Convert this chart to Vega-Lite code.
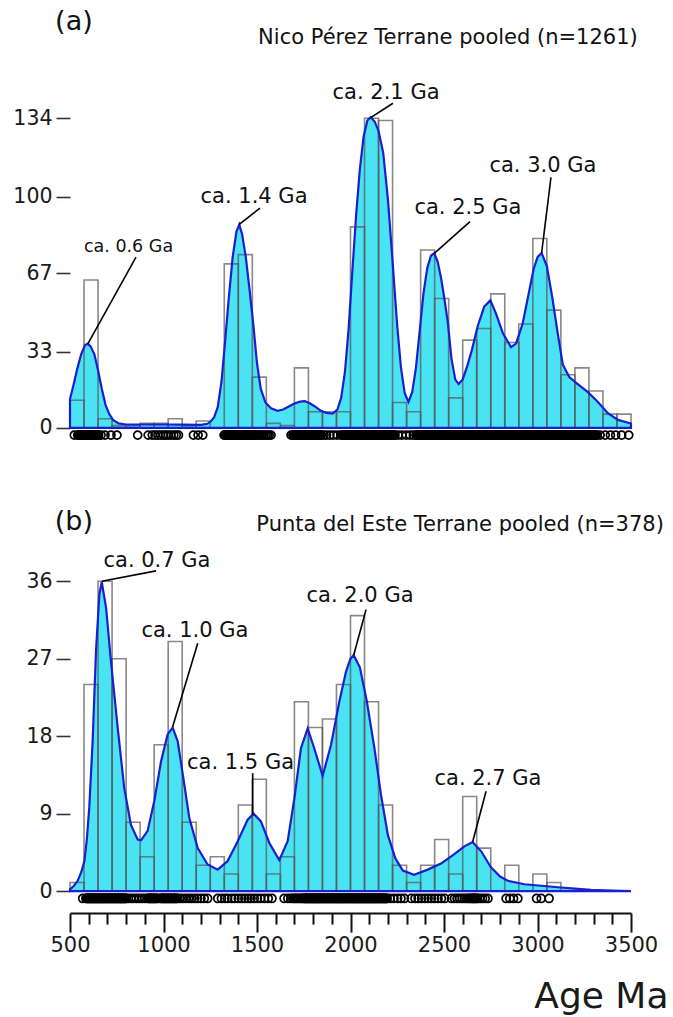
{
  "$schema": "https://vega.github.io/schema/vega-lite/v6.json",
  "background": "white",
  "padding": {"left": 12, "top": 5, "right": 6, "bottom": 0},
  "bounds": "flush",
  "spacing": 33,
  "config": {
    "view": {"stroke": null},
    "font": "DejaVu Sans",
    "axis": {"labelFont": "DejaVu Sans", "titleFont": "DejaVu Sans", "grid": false},
    "text": {"font": "DejaVu Sans"}
  },
  "datasets": {
    "histA": [
      {"start": 500, "end": 575, "count": 12}, {"start": 575, "end": 650, "count": 64},
      {"start": 650, "end": 725, "count": 4}, {"start": 725, "end": 800, "count": 1},
      {"start": 800, "end": 875, "count": 1}, {"start": 875, "end": 950, "count": 2},
      {"start": 950, "end": 1025, "count": 2}, {"start": 1025, "end": 1100, "count": 4},
      {"start": 1100, "end": 1175, "count": 1}, {"start": 1175, "end": 1250, "count": 3},
      {"start": 1325, "end": 1400, "count": 71}, {"start": 1400, "end": 1475, "count": 75},
      {"start": 1475, "end": 1550, "count": 22}, {"start": 1550, "end": 1625, "count": 2},
      {"start": 1625, "end": 1700, "count": 1}, {"start": 1700, "end": 1775, "count": 26},
      {"start": 1775, "end": 1850, "count": 7}, {"start": 1850, "end": 1925, "count": 7},
      {"start": 1925, "end": 2000, "count": 7}, {"start": 2000, "end": 2075, "count": 87},
      {"start": 2075, "end": 2150, "count": 134}, {"start": 2150, "end": 2225, "count": 133},
      {"start": 2225, "end": 2300, "count": 11}, {"start": 2300, "end": 2375, "count": 7},
      {"start": 2375, "end": 2450, "count": 77}, {"start": 2450, "end": 2525, "count": 56},
      {"start": 2525, "end": 2600, "count": 13}, {"start": 2600, "end": 2675, "count": 38},
      {"start": 2675, "end": 2750, "count": 43}, {"start": 2750, "end": 2825, "count": 58},
      {"start": 2825, "end": 2900, "count": 37}, {"start": 2900, "end": 2975, "count": 45},
      {"start": 2975, "end": 3050, "count": 82}, {"start": 3050, "end": 3125, "count": 51},
      {"start": 3125, "end": 3200, "count": 23}, {"start": 3200, "end": 3275, "count": 26},
      {"start": 3275, "end": 3350, "count": 16}, {"start": 3350, "end": 3425, "count": 6},
      {"start": 3425, "end": 3500, "count": 6}
    ],
    "histB": [
      {"start": 500, "end": 575, "count": 1}, {"start": 575, "end": 650, "count": 24},
      {"start": 650, "end": 725, "count": 36}, {"start": 725, "end": 800, "count": 27},
      {"start": 800, "end": 875, "count": 8}, {"start": 875, "end": 950, "count": 4},
      {"start": 950, "end": 1025, "count": 17}, {"start": 1025, "end": 1100, "count": 29},
      {"start": 1100, "end": 1175, "count": 8}, {"start": 1175, "end": 1250, "count": 3},
      {"start": 1250, "end": 1325, "count": 4}, {"start": 1325, "end": 1400, "count": 2},
      {"start": 1400, "end": 1475, "count": 10}, {"start": 1475, "end": 1550, "count": 13},
      {"start": 1550, "end": 1625, "count": 2}, {"start": 1625, "end": 1700, "count": 4},
      {"start": 1700, "end": 1775, "count": 22}, {"start": 1775, "end": 1850, "count": 19},
      {"start": 1850, "end": 1925, "count": 20}, {"start": 1925, "end": 2000, "count": 24},
      {"start": 2000, "end": 2075, "count": 32}, {"start": 2075, "end": 2150, "count": 22},
      {"start": 2150, "end": 2225, "count": 10}, {"start": 2225, "end": 2300, "count": 3},
      {"start": 2300, "end": 2375, "count": 1}, {"start": 2375, "end": 2450, "count": 3},
      {"start": 2450, "end": 2525, "count": 6}, {"start": 2525, "end": 2600, "count": 2},
      {"start": 2600, "end": 2675, "count": 11}, {"start": 2675, "end": 2750, "count": 5},
      {"start": 2825, "end": 2900, "count": 3}, {"start": 2975, "end": 3050, "count": 2},
      {"start": 3050, "end": 3125, "count": 1}
    ],
    "kdeA": [
      {"age": 500, "density": 12.5}, {"age": 520, "density": 19}, {"age": 540, "density": 26},
      {"age": 560, "density": 32}, {"age": 580, "density": 35.8}, {"age": 595, "density": 36.5},
      {"age": 610, "density": 35.3}, {"age": 630, "density": 32}, {"age": 650, "density": 25},
      {"age": 670, "density": 17}, {"age": 690, "density": 10}, {"age": 710, "density": 6},
      {"age": 730, "density": 3.5}, {"age": 760, "density": 2}, {"age": 800, "density": 1.5},
      {"age": 900, "density": 1.5}, {"age": 1000, "density": 1.5}, {"age": 1100, "density": 1.4},
      {"age": 1200, "density": 1.3}, {"age": 1235, "density": 1.8}, {"age": 1255, "density": 3},
      {"age": 1270, "density": 4.5}, {"age": 1290, "density": 9}, {"age": 1310, "density": 20},
      {"age": 1330, "density": 38}, {"age": 1350, "density": 57}, {"age": 1370, "density": 74},
      {"age": 1390, "density": 85}, {"age": 1405, "density": 88}, {"age": 1420, "density": 84},
      {"age": 1440, "density": 74}, {"age": 1460, "density": 60}, {"age": 1480, "density": 45},
      {"age": 1500, "density": 28}, {"age": 1520, "density": 17}, {"age": 1545, "density": 11},
      {"age": 1575, "density": 8.5}, {"age": 1610, "density": 7.4}, {"age": 1640, "density": 8},
      {"age": 1670, "density": 9.3}, {"age": 1700, "density": 10.6}, {"age": 1730, "density": 11.4},
      {"age": 1755, "density": 11.6}, {"age": 1780, "density": 10.8}, {"age": 1810, "density": 9.3},
      {"age": 1840, "density": 7.5}, {"age": 1870, "density": 6.5}, {"age": 1905, "density": 6.2},
      {"age": 1930, "density": 8}, {"age": 1950, "density": 13}, {"age": 1970, "density": 24},
      {"age": 1990, "density": 43}, {"age": 2010, "density": 68}, {"age": 2030, "density": 92},
      {"age": 2050, "density": 112}, {"age": 2070, "density": 126}, {"age": 2090, "density": 133},
      {"age": 2108, "density": 134.5}, {"age": 2130, "density": 132.5}, {"age": 2150, "density": 128.5},
      {"age": 2175, "density": 119}, {"age": 2200, "density": 99}, {"age": 2225, "density": 72},
      {"age": 2250, "density": 44}, {"age": 2270, "density": 26}, {"age": 2290, "density": 15},
      {"age": 2310, "density": 11.3}, {"age": 2330, "density": 15.5}, {"age": 2350, "density": 26},
      {"age": 2370, "density": 42}, {"age": 2390, "density": 58}, {"age": 2410, "density": 69},
      {"age": 2430, "density": 74.5}, {"age": 2448, "density": 75.6}, {"age": 2466, "density": 72},
      {"age": 2484, "density": 65}, {"age": 2500, "density": 57}, {"age": 2520, "density": 46},
      {"age": 2540, "density": 30}, {"age": 2560, "density": 21}, {"age": 2578, "density": 19},
      {"age": 2600, "density": 21}, {"age": 2625, "density": 27}, {"age": 2650, "density": 34},
      {"age": 2680, "density": 44}, {"age": 2715, "density": 52.5}, {"age": 2748, "density": 55.3},
      {"age": 2778, "density": 49.5}, {"age": 2815, "density": 41}, {"age": 2858, "density": 35},
      {"age": 2885, "density": 36.5}, {"age": 2920, "density": 45}, {"age": 2950, "density": 57},
      {"age": 2980, "density": 69}, {"age": 3001, "density": 74}, {"age": 3022, "density": 75.7},
      {"age": 3050, "density": 70}, {"age": 3080, "density": 56}, {"age": 3108, "density": 41},
      {"age": 3135, "density": 27.5}, {"age": 3170, "density": 22}, {"age": 3215, "density": 19},
      {"age": 3268, "density": 15.6}, {"age": 3322, "density": 11.3}, {"age": 3375, "density": 6.5},
      {"age": 3430, "density": 3.5}, {"age": 3500, "density": 1.9}
    ],
    "kdeB": [
      {"age": 500, "density": 0.2}, {"age": 520, "density": 0.6}, {"age": 541, "density": 1.2},
      {"age": 560, "density": 2.2}, {"age": 577, "density": 3.5}, {"age": 590, "density": 6},
      {"age": 603, "density": 9.7}, {"age": 621, "density": 17.4}, {"age": 639, "density": 27.9},
      {"age": 657, "density": 34.5}, {"age": 670, "density": 35.9}, {"age": 693, "density": 32.9},
      {"age": 719, "density": 26.7}, {"age": 755, "density": 19}, {"age": 790, "density": 12},
      {"age": 826, "density": 7.7}, {"age": 862, "density": 6}, {"age": 880, "density": 5.9},
      {"age": 915, "density": 7}, {"age": 951, "density": 10.5}, {"age": 987, "density": 15.1},
      {"age": 1022, "density": 18.2}, {"age": 1049, "density": 19}, {"age": 1076, "density": 17.4},
      {"age": 1103, "density": 13.6}, {"age": 1138, "density": 8.5}, {"age": 1183, "density": 5},
      {"age": 1236, "density": 3.1}, {"age": 1290, "density": 2.5}, {"age": 1343, "density": 3.5},
      {"age": 1397, "density": 5.8}, {"age": 1450, "density": 8.3}, {"age": 1482, "density": 9},
      {"age": 1521, "density": 8.1}, {"age": 1566, "density": 5.6}, {"age": 1619, "density": 3.6},
      {"age": 1664, "density": 5.8}, {"age": 1700, "density": 10.8}, {"age": 1735, "density": 16.6},
      {"age": 1771, "density": 18.9}, {"age": 1806, "density": 16.6}, {"age": 1851, "density": 13.4},
      {"age": 1896, "density": 17}, {"age": 1940, "density": 22}, {"age": 1976, "density": 25.5},
      {"age": 2000, "density": 27}, {"age": 2017, "density": 27.4}, {"age": 2050, "density": 26},
      {"age": 2087, "density": 22.1}, {"age": 2128, "density": 16.6}, {"age": 2163, "density": 11.2},
      {"age": 2200, "density": 6.5}, {"age": 2240, "density": 3.8}, {"age": 2280, "density": 2.4},
      {"age": 2340, "density": 1.9}, {"age": 2413, "density": 2.5}, {"age": 2484, "density": 3.2},
      {"age": 2555, "density": 4.3}, {"age": 2609, "density": 5.2}, {"age": 2653, "density": 5.7},
      {"age": 2700, "density": 4.6}, {"age": 2750, "density": 2.8}, {"age": 2800, "density": 1.7},
      {"age": 2841, "density": 1.2}, {"age": 2930, "density": 0.8}, {"age": 3036, "density": 0.6},
      {"age": 3108, "density": 0.45}, {"age": 3200, "density": 0.3}, {"age": 3286, "density": 0.15},
      {"age": 3400, "density": 0.05}, {"age": 3500, "density": 0}
    ],
    "rugA": [
      {"age": 523}, {"age": 541}, {"age": 545}, {"age": 549}, {"age": 553}, {"age": 557}, {"age": 561},
      {"age": 565}, {"age": 569}, {"age": 573}, {"age": 577}, {"age": 581}, {"age": 585}, {"age": 589},
      {"age": 593}, {"age": 597}, {"age": 601}, {"age": 605}, {"age": 609}, {"age": 613}, {"age": 617},
      {"age": 621}, {"age": 625}, {"age": 629}, {"age": 633}, {"age": 637}, {"age": 641}, {"age": 645},
      {"age": 649}, {"age": 653}, {"age": 666}, {"age": 687}, {"age": 719}, {"age": 751},
      {"age": 862}, {"age": 918}, {"age": 940}, {"age": 955}, {"age": 970}, {"age": 985}, {"age": 1000},
      {"age": 1012}, {"age": 1025}, {"age": 1040}, {"age": 1055}, {"age": 1068}, {"age": 1080},
      {"age": 1160}, {"age": 1185}, {"age": 1210},
      {"age": 1324}, {"age": 1328}, {"age": 1332}, {"age": 1336}, {"age": 1340}, {"age": 1344},
      {"age": 1348}, {"age": 1352}, {"age": 1356}, {"age": 1360}, {"age": 1364}, {"age": 1368},
      {"age": 1372}, {"age": 1376}, {"age": 1380}, {"age": 1384}, {"age": 1388}, {"age": 1392},
      {"age": 1396}, {"age": 1400}, {"age": 1404}, {"age": 1408}, {"age": 1412}, {"age": 1416},
      {"age": 1420}, {"age": 1424}, {"age": 1428}, {"age": 1432}, {"age": 1436}, {"age": 1440},
      {"age": 1444}, {"age": 1448}, {"age": 1452}, {"age": 1456}, {"age": 1460}, {"age": 1464},
      {"age": 1468}, {"age": 1472}, {"age": 1476}, {"age": 1480}, {"age": 1484}, {"age": 1490},
      {"age": 1496}, {"age": 1504}, {"age": 1512}, {"age": 1520}, {"age": 1528}, {"age": 1538},
      {"age": 1548}, {"age": 1556}, {"age": 1565}, {"age": 1575}, {"age": 1682},
      {"age": 1692}, {"age": 1696}, {"age": 1700}, {"age": 1704}, {"age": 1708}, {"age": 1712},
      {"age": 1716}, {"age": 1720}, {"age": 1724}, {"age": 1728}, {"age": 1732}, {"age": 1736},
      {"age": 1740}, {"age": 1744}, {"age": 1748}, {"age": 1752}, {"age": 1756}, {"age": 1760},
      {"age": 1764}, {"age": 1768}, {"age": 1772}, {"age": 1776}, {"age": 1780}, {"age": 1784},
      {"age": 1788}, {"age": 1792}, {"age": 1796}, {"age": 1800}, {"age": 1804}, {"age": 1808},
      {"age": 1812}, {"age": 1816}, {"age": 1820}, {"age": 1824}, {"age": 1828}, {"age": 1832},
      {"age": 1836}, {"age": 1840}, {"age": 1844}, {"age": 1858}, {"age": 1872}, {"age": 1890},
      {"age": 1908}, {"age": 1928}, {"age": 1948},
      {"age": 1958}, {"age": 1962}, {"age": 1966}, {"age": 1970}, {"age": 1974}, {"age": 1978},
      {"age": 1982}, {"age": 1986}, {"age": 1990}, {"age": 1994}, {"age": 1998}, {"age": 2002},
      {"age": 2006}, {"age": 2010}, {"age": 2014}, {"age": 2018}, {"age": 2022}, {"age": 2026},
      {"age": 2030}, {"age": 2034}, {"age": 2038}, {"age": 2042}, {"age": 2046}, {"age": 2050},
      {"age": 2054}, {"age": 2058}, {"age": 2062}, {"age": 2066}, {"age": 2070}, {"age": 2074},
      {"age": 2078}, {"age": 2082}, {"age": 2086}, {"age": 2090}, {"age": 2094}, {"age": 2098},
      {"age": 2102}, {"age": 2106}, {"age": 2110}, {"age": 2114}, {"age": 2118}, {"age": 2122},
      {"age": 2126}, {"age": 2130}, {"age": 2134}, {"age": 2138}, {"age": 2142}, {"age": 2146},
      {"age": 2150}, {"age": 2154}, {"age": 2158}, {"age": 2162}, {"age": 2166}, {"age": 2170},
      {"age": 2174}, {"age": 2178}, {"age": 2182}, {"age": 2186}, {"age": 2190}, {"age": 2194},
      {"age": 2198}, {"age": 2202}, {"age": 2206}, {"age": 2210}, {"age": 2214}, {"age": 2218},
      {"age": 2222}, {"age": 2226}, {"age": 2230}, {"age": 2234}, {"age": 2238},
      {"age": 2255}, {"age": 2275}, {"age": 2298}, {"age": 2318}, {"age": 2336},
      {"age": 2350}, {"age": 2354}, {"age": 2358}, {"age": 2362}, {"age": 2366}, {"age": 2370},
      {"age": 2374}, {"age": 2378}, {"age": 2382}, {"age": 2386}, {"age": 2390}, {"age": 2394},
      {"age": 2398}, {"age": 2402}, {"age": 2406}, {"age": 2410}, {"age": 2414}, {"age": 2418},
      {"age": 2422}, {"age": 2426}, {"age": 2430}, {"age": 2434}, {"age": 2438}, {"age": 2442},
      {"age": 2446}, {"age": 2450}, {"age": 2454}, {"age": 2458}, {"age": 2462}, {"age": 2466},
      {"age": 2470}, {"age": 2474}, {"age": 2478}, {"age": 2482}, {"age": 2486}, {"age": 2490},
      {"age": 2494}, {"age": 2498}, {"age": 2502}, {"age": 2506}, {"age": 2510}, {"age": 2514},
      {"age": 2518}, {"age": 2526}, {"age": 2534}, {"age": 2542}, {"age": 2550}, {"age": 2558},
      {"age": 2566}, {"age": 2574}, {"age": 2582}, {"age": 2590}, {"age": 2598}, {"age": 2604},
      {"age": 2610}, {"age": 2614}, {"age": 2618}, {"age": 2622}, {"age": 2626}, {"age": 2630},
      {"age": 2634}, {"age": 2638}, {"age": 2642}, {"age": 2646}, {"age": 2650}, {"age": 2654},
      {"age": 2658}, {"age": 2662}, {"age": 2666}, {"age": 2670}, {"age": 2674}, {"age": 2678},
      {"age": 2682}, {"age": 2686}, {"age": 2690}, {"age": 2694}, {"age": 2698}, {"age": 2702},
      {"age": 2706}, {"age": 2710}, {"age": 2714}, {"age": 2718}, {"age": 2722}, {"age": 2726},
      {"age": 2730}, {"age": 2734}, {"age": 2738}, {"age": 2742}, {"age": 2746}, {"age": 2750},
      {"age": 2754}, {"age": 2758}, {"age": 2762}, {"age": 2766}, {"age": 2770}, {"age": 2774},
      {"age": 2778}, {"age": 2782}, {"age": 2786}, {"age": 2790}, {"age": 2794}, {"age": 2798},
      {"age": 2802}, {"age": 2806}, {"age": 2810}, {"age": 2814}, {"age": 2818}, {"age": 2822},
      {"age": 2826}, {"age": 2830}, {"age": 2834}, {"age": 2838}, {"age": 2842}, {"age": 2846},
      {"age": 2850}, {"age": 2854}, {"age": 2858}, {"age": 2862}, {"age": 2866}, {"age": 2870},
      {"age": 2874}, {"age": 2878}, {"age": 2882}, {"age": 2886}, {"age": 2890}, {"age": 2894},
      {"age": 2898}, {"age": 2902}, {"age": 2906}, {"age": 2910}, {"age": 2914}, {"age": 2918},
      {"age": 2922}, {"age": 2926}, {"age": 2930}, {"age": 2934}, {"age": 2938}, {"age": 2942},
      {"age": 2946}, {"age": 2950}, {"age": 2954}, {"age": 2958}, {"age": 2962}, {"age": 2966},
      {"age": 2970}, {"age": 2974}, {"age": 2978}, {"age": 2982}, {"age": 2986}, {"age": 2990},
      {"age": 2994}, {"age": 2998}, {"age": 3002}, {"age": 3006}, {"age": 3010}, {"age": 3014},
      {"age": 3018}, {"age": 3022}, {"age": 3026}, {"age": 3030}, {"age": 3034}, {"age": 3038},
      {"age": 3042}, {"age": 3046}, {"age": 3050}, {"age": 3054}, {"age": 3058}, {"age": 3062},
      {"age": 3066}, {"age": 3070}, {"age": 3074}, {"age": 3078}, {"age": 3082}, {"age": 3086},
      {"age": 3090}, {"age": 3094}, {"age": 3098}, {"age": 3102}, {"age": 3106}, {"age": 3110},
      {"age": 3114}, {"age": 3118}, {"age": 3122}, {"age": 3126}, {"age": 3130}, {"age": 3134},
      {"age": 3138}, {"age": 3142}, {"age": 3146}, {"age": 3150}, {"age": 3154}, {"age": 3158},
      {"age": 3162}, {"age": 3166}, {"age": 3170}, {"age": 3174}, {"age": 3178}, {"age": 3182},
      {"age": 3186}, {"age": 3190}, {"age": 3194}, {"age": 3198}, {"age": 3202}, {"age": 3206},
      {"age": 3210}, {"age": 3214}, {"age": 3218}, {"age": 3222}, {"age": 3226}, {"age": 3230},
      {"age": 3234}, {"age": 3238}, {"age": 3242}, {"age": 3246}, {"age": 3250}, {"age": 3254},
      {"age": 3258}, {"age": 3262}, {"age": 3266}, {"age": 3270}, {"age": 3274}, {"age": 3278},
      {"age": 3282}, {"age": 3286}, {"age": 3290}, {"age": 3294}, {"age": 3298}, {"age": 3302},
      {"age": 3306}, {"age": 3310}, {"age": 3314}, {"age": 3318},
      {"age": 3335}, {"age": 3362}, {"age": 3390}, {"age": 3418}, {"age": 3450}, {"age": 3488}
    ],
    "rugB": [
      {"age": 568}, {"age": 585}, {"age": 589}, {"age": 593}, {"age": 597}, {"age": 601}, {"age": 605},
      {"age": 609}, {"age": 613}, {"age": 617}, {"age": 621}, {"age": 625}, {"age": 629}, {"age": 633},
      {"age": 637}, {"age": 641}, {"age": 645}, {"age": 649}, {"age": 653}, {"age": 657}, {"age": 661},
      {"age": 665}, {"age": 669}, {"age": 673}, {"age": 677}, {"age": 681}, {"age": 685}, {"age": 689},
      {"age": 693}, {"age": 697}, {"age": 701}, {"age": 705}, {"age": 709}, {"age": 713}, {"age": 717},
      {"age": 721}, {"age": 725}, {"age": 729}, {"age": 733}, {"age": 737}, {"age": 741}, {"age": 745},
      {"age": 749}, {"age": 753}, {"age": 757}, {"age": 761}, {"age": 765}, {"age": 769}, {"age": 773},
      {"age": 777}, {"age": 781}, {"age": 785}, {"age": 789}, {"age": 793}, {"age": 797}, {"age": 801},
      {"age": 812}, {"age": 826}, {"age": 840}, {"age": 855}, {"age": 870}, {"age": 885},
      {"age": 900}, {"age": 915}, {"age": 920}, {"age": 925}, {"age": 930}, {"age": 935}, {"age": 940},
      {"age": 945}, {"age": 950}, {"age": 955}, {"age": 960}, {"age": 965}, {"age": 975}, {"age": 985},
      {"age": 990}, {"age": 995}, {"age": 1000}, {"age": 1005}, {"age": 1010}, {"age": 1015},
      {"age": 1020}, {"age": 1025}, {"age": 1030}, {"age": 1035}, {"age": 1040}, {"age": 1045},
      {"age": 1050}, {"age": 1055}, {"age": 1060}, {"age": 1065}, {"age": 1070}, {"age": 1075},
      {"age": 1088}, {"age": 1102}, {"age": 1118}, {"age": 1135}, {"age": 1150}, {"age": 1166},
      {"age": 1182}, {"age": 1200}, {"age": 1218}, {"age": 1236},
      {"age": 1290}, {"age": 1310}, {"age": 1328}, {"age": 1343},
      {"age": 1365}, {"age": 1382}, {"age": 1400}, {"age": 1418}, {"age": 1435}, {"age": 1452},
      {"age": 1468}, {"age": 1485}, {"age": 1502}, {"age": 1520}, {"age": 1540}, {"age": 1560},
      {"age": 1580}, {"age": 1645}, {"age": 1665}, {"age": 1680},
      {"age": 1692}, {"age": 1700}, {"age": 1708}, {"age": 1716}, {"age": 1724}, {"age": 1732},
      {"age": 1740}, {"age": 1746}, {"age": 1752}, {"age": 1756}, {"age": 1760}, {"age": 1764},
      {"age": 1768}, {"age": 1772}, {"age": 1776}, {"age": 1780}, {"age": 1784}, {"age": 1788},
      {"age": 1792}, {"age": 1796}, {"age": 1800}, {"age": 1804}, {"age": 1808}, {"age": 1812},
      {"age": 1816}, {"age": 1820}, {"age": 1824}, {"age": 1828}, {"age": 1832}, {"age": 1836},
      {"age": 1840}, {"age": 1844}, {"age": 1848}, {"age": 1852}, {"age": 1856}, {"age": 1860},
      {"age": 1864}, {"age": 1868}, {"age": 1872}, {"age": 1876}, {"age": 1880}, {"age": 1884},
      {"age": 1888}, {"age": 1892}, {"age": 1896}, {"age": 1900}, {"age": 1904}, {"age": 1908},
      {"age": 1912}, {"age": 1916}, {"age": 1920}, {"age": 1924}, {"age": 1928}, {"age": 1932},
      {"age": 1936}, {"age": 1940}, {"age": 1944}, {"age": 1948}, {"age": 1952}, {"age": 1956},
      {"age": 1960}, {"age": 1964}, {"age": 1968}, {"age": 1972}, {"age": 1976}, {"age": 1980},
      {"age": 1984}, {"age": 1988}, {"age": 1992}, {"age": 1996}, {"age": 2000}, {"age": 2004},
      {"age": 2008}, {"age": 2012}, {"age": 2016}, {"age": 2020}, {"age": 2024}, {"age": 2028},
      {"age": 2032}, {"age": 2036}, {"age": 2040}, {"age": 2044}, {"age": 2048}, {"age": 2052},
      {"age": 2056}, {"age": 2060}, {"age": 2064}, {"age": 2068}, {"age": 2072}, {"age": 2076},
      {"age": 2080}, {"age": 2084}, {"age": 2088}, {"age": 2092}, {"age": 2096}, {"age": 2100},
      {"age": 2104}, {"age": 2108}, {"age": 2112}, {"age": 2116}, {"age": 2120}, {"age": 2124},
      {"age": 2128}, {"age": 2132}, {"age": 2136}, {"age": 2140}, {"age": 2144}, {"age": 2148},
      {"age": 2152}, {"age": 2156}, {"age": 2160}, {"age": 2164}, {"age": 2168}, {"age": 2172},
      {"age": 2176}, {"age": 2180}, {"age": 2184}, {"age": 2188}, {"age": 2192}, {"age": 2196},
      {"age": 2212}, {"age": 2232}, {"age": 2252}, {"age": 2270}, {"age": 2288},
      {"age": 2325}, {"age": 2345}, {"age": 2362}, {"age": 2380}, {"age": 2398}, {"age": 2415},
      {"age": 2432}, {"age": 2450}, {"age": 2468}, {"age": 2486}, {"age": 2504},
      {"age": 2540}, {"age": 2556}, {"age": 2570}, {"age": 2584}, {"age": 2598}, {"age": 2610},
      {"age": 2622}, {"age": 2630}, {"age": 2638}, {"age": 2646}, {"age": 2652}, {"age": 2657},
      {"age": 2662}, {"age": 2668}, {"age": 2674}, {"age": 2680}, {"age": 2692}, {"age": 2706},
      {"age": 2720}, {"age": 2735},
      {"age": 2832}, {"age": 2852}, {"age": 2872}, {"age": 2895},
      {"age": 2995}, {"age": 3020}, {"age": 3062}
    ],
    "peaksA": [
      {"label": "ca. 1.4 Ga", "tx": 1484, "ty": 99.8, "x1": 1516, "y1": 95.1, "x2": 1405, "y2": 88.1},
      {"label": "ca. 2.1 Ga", "tx": 2190, "ty": 144.8, "x1": 2227, "y1": 140.5, "x2": 2108, "y2": 134.3},
      {"label": "ca. 2.5 Ga", "tx": 2628, "ty": 95.1, "x1": 2639, "y1": 89.3, "x2": 2448, "y2": 75.5},
      {"label": "ca. 3.0 Ga", "tx": 3029, "ty": 113.2, "x1": 3072, "y1": 108.4, "x2": 3022, "y2": 75.7}
    ],
    "peakA06": [
      {"label": "ca. 0.6 Ga", "tx": 813, "ty": 78.3, "x1": 853, "y1": 73.9, "x2": 596, "y2": 36.5}
    ],
    "peaksB": [
      {"label": "ca. 0.7 Ga", "tx": 965, "ty": 38.3, "x1": 960, "y1": 37.2, "x2": 670, "y2": 36},
      {"label": "ca. 1.0 Ga", "tx": 1168, "ty": 30.2, "x1": 1183, "y1": 28.8, "x2": 1049, "y2": 19.1},
      {"label": "ca. 1.5 Ga", "tx": 1412, "ty": 14.9, "x1": 1477, "y1": 13.7, "x2": 1477, "y2": 8.9},
      {"label": "ca. 2.0 Ga", "tx": 2051, "ty": 34.3, "x1": 2083, "y1": 32.7, "x2": 2017, "y2": 27.4},
      {"label": "ca. 2.7 Ga", "tx": 2735, "ty": 13, "x1": 2725, "y1": 11.6, "x2": 2653, "y2": 5.7}
    ],
    "headA": [
      {"label": "(a)", "kind": "panel", "tx": 521, "ty": 175.6},
      {"label": "Nico Pérez Terrane pooled (n=1261)", "kind": "name", "tx": 2521, "ty": 168.6}
    ],
    "headB": [
      {"label": "(b)", "kind": "panel", "tx": 521, "ty": 42.9},
      {"label": "Punta del Este Terrane pooled (n=378)", "kind": "name", "tx": 2586, "ty": 42.5}
    ]
  },
  "vconcat": [
    {
      "width": 561,
      "height": 432.2,
      "layer": [
        {
          "data": {"name": "kdeA"},
          "mark": {"type": "area", "fill": "#4ae3f3", "stroke": null},
          "encoding": {
            "x": {"field": "age", "type": "quantitative", "scale": {"domain": [500, 3500], "zero": false, "nice": false}, "axis": null},
            "y": {
              "field": "density", "type": "quantitative",
              "scale": {"domain": [-4, 183], "nice": false, "zero": false},
              "axis": {
                "values": [0, 33, 67, 100, 134], "tickCount": 10, "title": null, "domain": false,
                "tickSize": 14, "tickWidth": 1.6, "tickColor": "#333",
                "labelFontSize": 20.5, "labelPadding": 4, "labelColor": "#1a1a1a"
              }
            },
            "y2": {"datum": 0}
          }
        },
        {
          "data": {"name": "histA"},
          "mark": {"type": "bar", "fillOpacity": 0, "stroke": "#555555", "strokeOpacity": 0.7, "strokeWidth": 1.6},
          "encoding": {
            "x": {"field": "start", "type": "quantitative"},
            "x2": {"field": "end"},
            "y": {"field": "count", "type": "quantitative"},
            "y2": {"datum": 0}
          }
        },
        {
          "data": {"name": "kdeA"},
          "mark": {"type": "area", "fillOpacity": 0, "stroke": "#1a1fd0", "strokeWidth": 2.2},
          "encoding": {
            "x": {"field": "age", "type": "quantitative"},
            "y": {"field": "density", "type": "quantitative"},
            "y2": {"datum": 0}
          }
        },
        {
          "data": {"name": "rugA"},
          "mark": {"type": "point", "shape": "circle", "filled": false, "size": 64, "stroke": "#000000", "strokeWidth": 1.7, "opacity": 1},
          "encoding": {
            "x": {"field": "age", "type": "quantitative"},
            "y": {"datum": -3.1}
          }
        },
        {
          "data": {"name": "peaksA"},
          "mark": {"type": "rule", "color": "#000000", "strokeWidth": 1.6},
          "encoding": {
            "x": {"field": "x1", "type": "quantitative"},
            "y": {"field": "y1", "type": "quantitative"},
            "x2": {"field": "x2"},
            "y2": {"field": "y2"}
          }
        },
        {
          "data": {"name": "peaksA"},
          "mark": {"type": "text", "fontSize": 21, "color": "#111111", "align": "center", "baseline": "middle"},
          "encoding": {
            "x": {"field": "tx", "type": "quantitative"},
            "y": {"field": "ty", "type": "quantitative"},
            "text": {"field": "label"}
          }
        },
        {
          "data": {"name": "peakA06"},
          "mark": {"type": "rule", "color": "#000000", "strokeWidth": 1.6},
          "encoding": {
            "x": {"field": "x1", "type": "quantitative"},
            "y": {"field": "y1", "type": "quantitative"},
            "x2": {"field": "x2"},
            "y2": {"field": "y2"}
          }
        },
        {
          "data": {"name": "peakA06"},
          "mark": {"type": "text", "fontSize": 17.5, "color": "#111111", "align": "center", "baseline": "middle"},
          "encoding": {
            "x": {"field": "tx", "type": "quantitative"},
            "y": {"field": "ty", "type": "quantitative"},
            "text": {"field": "label"}
          }
        },
        {
          "data": {"name": "headA"},
          "mark": {"type": "text", "color": "#111111", "align": "center", "baseline": "middle"},
          "encoding": {
            "x": {"field": "tx", "type": "quantitative"},
            "y": {"field": "ty", "type": "quantitative"},
            "text": {"field": "label"},
            "size": {"field": "kind", "type": "nominal", "scale": {"domain": ["panel", "name"], "range": [27, 21]}, "legend": null}
          }
        }
      ]
    },
    {
      "width": 561,
      "height": 442.1,
      "layer": [
        {
          "data": {"name": "kdeB"},
          "mark": {"type": "area", "fill": "#4ae3f3", "stroke": null},
          "encoding": {
            "x": {
              "field": "age", "type": "quantitative", "scale": {"domain": [500, 3500], "zero": false, "nice": false},
              "axis": {
                "values": [500, 600, 700, 800, 900, 1000, 1100, 1200, 1300, 1400, 1500, 1600, 1700, 1800, 1900, 2000, 2100, 2200, 2300, 2400, 2500, 2600, 2700, 2800, 2900, 3000, 3100, 3200, 3300, 3400, 3500],
                "tickCount": 40,
                "format": "d",
                "labelExpr": "datum.value % 500 === 0 ? datum.label : ''",
                "labelOverlap": false, "labelFlush": false,
                "domain": true, "domainColor": "#111111", "domainWidth": 2,
                "ticks": true, "tickColor": "#111111", "tickWidth": 2,
                "tickSize": {"condition": {"test": "datum.value % 500 === 0", "value": 19}, "value": 11},
                "labelFontSize": 21, "labelPadding": 2, "labelColor": "#1a1a1a",
                "title": "Age Ma", "titleFontSize": 36, "titleFontWeight": "normal", "titleColor": "#1a1a1a",
                "titleAnchor": "end", "titleAlign": "right", "titleBaseline": "alphabetic",
                "titleX": 598, "titleY": 94
              }
            },
            "y": {
              "field": "density", "type": "quantitative",
              "scale": {"domain": [-2.55, 48.8], "nice": false, "zero": false},
              "axis": {
                "values": [0, 9, 18, 27, 36], "tickCount": 10, "title": null, "domain": false,
                "tickSize": 14, "tickWidth": 1.6, "tickColor": "#333",
                "labelFontSize": 20.5, "labelPadding": 4, "labelColor": "#1a1a1a"
              }
            },
            "y2": {"datum": 0}
          }
        },
        {
          "data": {"name": "histB"},
          "mark": {"type": "bar", "fillOpacity": 0, "stroke": "#555555", "strokeOpacity": 0.7, "strokeWidth": 1.6},
          "encoding": {
            "x": {"field": "start", "type": "quantitative"},
            "x2": {"field": "end"},
            "y": {"field": "count", "type": "quantitative"},
            "y2": {"datum": 0}
          }
        },
        {
          "data": {"name": "kdeB"},
          "mark": {"type": "area", "fillOpacity": 0, "stroke": "#1a1fd0", "strokeWidth": 2.2},
          "encoding": {
            "x": {"field": "age", "type": "quantitative"},
            "y": {"field": "density", "type": "quantitative"},
            "y2": {"datum": 0}
          }
        },
        {
          "data": {"name": "rugB"},
          "mark": {"type": "point", "shape": "circle", "filled": false, "size": 64, "stroke": "#000000", "strokeWidth": 1.7, "opacity": 1},
          "encoding": {
            "x": {"field": "age", "type": "quantitative"},
            "y": {"datum": -0.85}
          }
        },
        {
          "data": {"name": "peaksB"},
          "mark": {"type": "rule", "color": "#000000", "strokeWidth": 1.6},
          "encoding": {
            "x": {"field": "x1", "type": "quantitative"},
            "y": {"field": "y1", "type": "quantitative"},
            "x2": {"field": "x2"},
            "y2": {"field": "y2"}
          }
        },
        {
          "data": {"name": "peaksB"},
          "mark": {"type": "text", "fontSize": 21, "color": "#111111", "align": "center", "baseline": "middle"},
          "encoding": {
            "x": {"field": "tx", "type": "quantitative"},
            "y": {"field": "ty", "type": "quantitative"},
            "text": {"field": "label"}
          }
        },
        {
          "data": {"name": "headB"},
          "mark": {"type": "text", "color": "#111111", "align": "center", "baseline": "middle"},
          "encoding": {
            "x": {"field": "tx", "type": "quantitative"},
            "y": {"field": "ty", "type": "quantitative"},
            "text": {"field": "label"},
            "size": {"field": "kind", "type": "nominal", "scale": {"domain": ["panel", "name"], "range": [27, 21]}, "legend": null}
          }
        }
      ]
    }
  ]
}
